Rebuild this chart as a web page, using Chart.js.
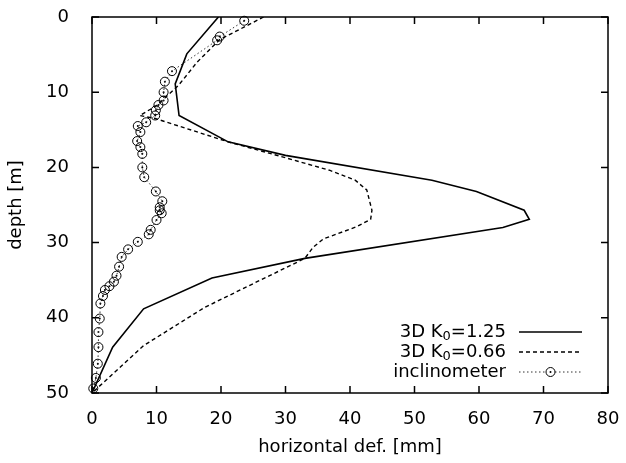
<!DOCTYPE html>
<html>
<head>
<meta charset="utf-8">
<script src="https://cdn.jsdelivr.net/npm/chart.js@4"></script>
<style>
  body { margin: 0; background: #fff; }
  canvas { display: block; }
</style>
</head>
<body>
<canvas id="profileChart" width="626" height="463" style="width:626px;height:463px"></canvas>
<script>
// horizontal deflection [mm] vs depth [m]
const k125Def   = [19.6, 14.7, 12.9, 13.5, 21.1, 30.0, 52.7, 59.6, 67.0, 67.8, 63.7, 33.0, 18.6, 8.0, 3.2, 0.0];
const k125Depth = [0, 4.9, 8.9, 13.1, 16.6, 18.4, 21.7, 23.2, 25.7, 26.9, 28.0, 32.1, 34.7, 38.8, 43.9, 50];

const k066Def   = [26.6, 23.0, 19.8, 16.3, 13.4, 10.0, 7.4, 9.8, 21.1, 29.1, 36.9, 40.8, 42.6, 43.4, 43.2, 41.0, 35.9, 34.3, 33.0, 17.5, 8.0, 0.0];
const k066Depth = [0, 1.6, 3.0, 6.0, 9.1, 11.8, 13.1, 13.5, 16.6, 18.5, 20.4, 21.7, 23.0, 25.7, 26.9, 27.9, 29.5, 30.6, 32.1, 38.6, 43.7, 50];

const inclDef   = [23.6, 19.8, 19.4, 12.4, 11.3, 11.1, 11.1, 10.3, 9.9, 9.8, 8.4, 7.1, 7.5, 7.0, 7.5, 7.8, 7.8, 8.1, 9.9, 10.9, 10.5, 10.5, 10.8, 10.0, 9.1, 8.8, 7.1, 5.6, 4.6, 4.2, 3.8, 3.4, 2.7, 2.0, 1.7, 1.3, 1.2, 1.0, 1.0, 0.9, 0.6, 0.2];
const inclDepth = [0.5, 2.6, 3.1, 7.2, 8.6, 10.0, 11.1, 11.7, 12.4, 13.1, 14.0, 14.5, 15.3, 16.5, 17.3, 18.2, 20.0, 21.3, 23.2, 24.5, 25.3, 25.7, 26.1, 27.0, 28.3, 28.9, 29.9, 30.9, 31.9, 33.2, 34.4, 35.2, 35.8, 36.3, 37.1, 38.1, 40.1, 41.9, 43.9, 46.1, 48.0, 49.4];

const seriesLabels = ['3D K\u2080=1.25', '3D K\u2080=0.66', 'inclinometer'];
const xTicks = [0, 10, 20, 30, 40, 50, 60, 70, 80];
const yTicks = [0, 10, 20, 30, 40, 50];

function toPoints(xs, ys) {
    return xs.map((v, i) => ({ x: v, y: ys[i] }));
}

Chart.defaults.font.family = 'DejaVu Sans';
Chart.defaults.font.size = 18;
Chart.defaults.color = '#000';

// gnuplot style frame with inward ticks on all four sides
const framePlugin = {
    id: 'frame',
    afterDatasetsDraw(chart) {
        const { ctx, chartArea: a, scales } = chart;
        const len = 7;
        ctx.save();
        ctx.strokeStyle = '#000';
        ctx.lineWidth = 1.5;
        ctx.strokeRect(a.left, a.top, a.right - a.left, a.bottom - a.top);
        ctx.beginPath();
        xTicks.forEach(t => {
            const px = scales.x.getPixelForValue(t);
            ctx.moveTo(px, a.bottom); ctx.lineTo(px, a.bottom - len);
            ctx.moveTo(px, a.top); ctx.lineTo(px, a.top + len);
        });
        yTicks.forEach(t => {
            const py = scales.y.getPixelForValue(t);
            ctx.moveTo(a.left, py); ctx.lineTo(a.left + len, py);
            ctx.moveTo(a.right, py); ctx.lineTo(a.right - len, py);
        });
        ctx.stroke();
        ctx.restore();
    }
};

// legend: right aligned text, sample line to the right, subscript 0
const keyPlugin = {
    id: 'key',
    afterDraw(chart) {
        const ctx = chart.ctx;
        const textRight = 506, lineX0 = 519, lineX1 = 582;
        const rows = [332, 352, 372];
        const mainFont = '18px "DejaVu Sans"';
        const subFont = '13px "DejaVu Sans"';
        ctx.save();
        ctx.fillStyle = '#000';
        ctx.textBaseline = 'middle';
        seriesLabels.forEach((label, i) => {
            const ds = chart.data.datasets[i];
            const y = rows[i];
            const parts = label.split('\u2080');
            ctx.font = mainFont;
            let w = ctx.measureText(parts[0]).width;
            let subW = 0;
            if (parts.length > 1) {
                ctx.font = subFont;
                subW = ctx.measureText('0').width;
                ctx.font = mainFont;
                w += subW + ctx.measureText(parts[1]).width;
            }
            let x = textRight - w;
            ctx.textAlign = 'left';
            ctx.fillText(parts[0], x, y);
            if (parts.length > 1) {
                x += ctx.measureText(parts[0]).width;
                ctx.font = subFont;
                ctx.fillText('0', x, y + 5);
                x += subW;
                ctx.font = mainFont;
                ctx.fillText(parts[1], x, y);
            }
            ctx.strokeStyle = ds.borderColor;
            ctx.lineWidth = ds.borderWidth;
            ctx.setLineDash(ds.borderDash || []);
            ctx.beginPath();
            ctx.moveTo(lineX0, y);
            ctx.lineTo(lineX1, y);
            ctx.stroke();
            ctx.setLineDash([]);
            if (ds.pointRadius > 0) {
                const cx = (lineX0 + lineX1) / 2;
                ctx.fillStyle = '#fff';
                ctx.strokeStyle = '#000';
                ctx.lineWidth = 1;
                ctx.beginPath();
                ctx.arc(cx, y, ds.pointRadius, 0, Math.PI * 2);
                ctx.fill();
                ctx.stroke();
                ctx.fillStyle = '#000';
                ctx.beginPath();
                ctx.arc(cx, y, 1, 0, Math.PI * 2);
                ctx.fill();
            }
        });
        ctx.restore();
    }
};

const ctx = document.getElementById('profileChart').getContext('2d');
new Chart(ctx, {
    type: 'line',
    data: {
        datasets: [
            {
                label: seriesLabels[0],
                data: toPoints(k125Def, k125Depth),
                borderColor: '#000',
                borderWidth: 1.6,
                pointRadius: 0,
                tension: 0
            },
            {
                label: seriesLabels[1],
                data: toPoints(k066Def, k066Depth),
                borderColor: '#000',
                borderWidth: 1.4,
                borderDash: [4, 3],
                pointRadius: 0,
                tension: 0
            },
            {
                label: seriesLabels[2],
                data: toPoints(inclDef, inclDepth),
                borderColor: '#333',
                borderWidth: 1,
                borderDash: [1.5, 2.5],
                pointRadius: 4.5,
                pointBorderColor: '#000',
                pointBackgroundColor: 'rgba(0,0,0,0)',
                pointBorderWidth: 1,
                clip: false,
                tension: 0
            },
            {
                // centre dots of the inclinometer markers
                label: 'inclinometer dots',
                data: toPoints(inclDef, inclDepth),
                showLine: false,
                pointRadius: 1,
                pointBackgroundColor: '#000',
                pointBorderWidth: 0,
                clip: false
            }
        ]
    },
    options: {
        responsive: false,
        animation: false,
        layout: { padding: { left: 0, right: 18, top: 17, bottom: 0 } },
        scales: {
            x: {
                type: 'linear',
                min: 0,
                max: 80,
                grid: { display: false },
                border: { display: false },
                ticks: { stepSize: 10, padding: 8, maxRotation: 0 },
                title: { display: true, text: 'horizontal def. [mm]', padding: { top: 0, bottom: 5 } },
                afterFit(scale) {
                    scale.height = 70;
                    scale.paddingLeft = 0;
                    scale.paddingRight = 0;
                }
            },
            y: {
                type: 'linear',
                min: 0,
                max: 50,
                reverse: true,
                grid: { display: false },
                border: { display: false },
                ticks: { stepSize: 10, padding: 15 },
                title: { display: true, text: 'depth [m]', padding: { top: 6, bottom: 0 } },
                afterFit(scale) {
                    scale.width = 92;
                    scale.paddingTop = 0;
                    scale.paddingBottom = 0;
                }
            }
        },
        plugins: {
            legend: { display: false },
            tooltip: { enabled: false }
        }
    },
    plugins: [framePlugin, keyPlugin]
});
</script>
</body>
</html>
